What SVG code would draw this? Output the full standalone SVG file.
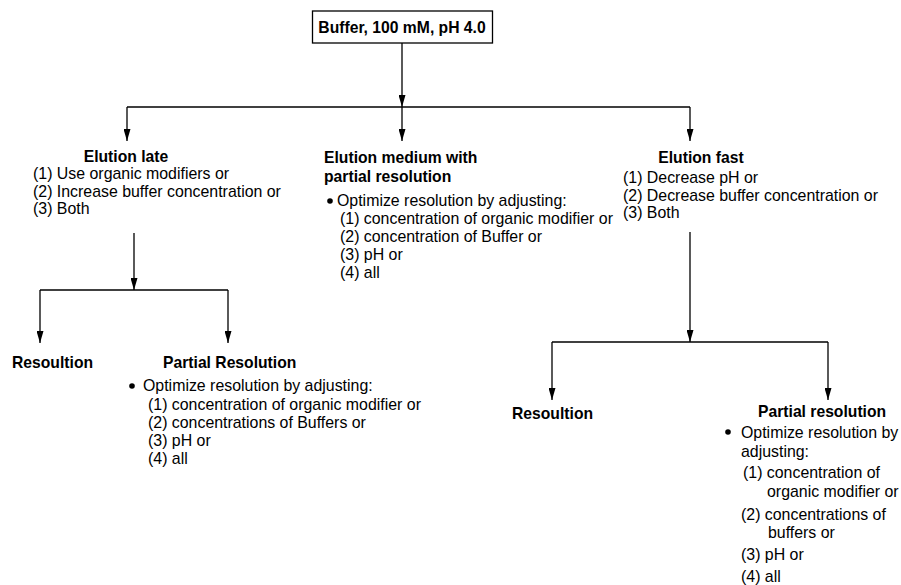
<svg xmlns="http://www.w3.org/2000/svg" width="901" height="585" viewBox="0 0 901 585">
<defs>
<style>
text{font-family:"Liberation Sans",Arial,sans-serif;font-size:15.9px;fill:#000}
.b{font-weight:bold;font-size:15.7px}
.ln{stroke:#000;stroke-width:1.3;fill:none}
</style>
<marker id="ah" viewBox="0 0 12 7" refX="12" refY="3.5" markerWidth="12" markerHeight="7" orient="auto" markerUnits="userSpaceOnUse">
<path d="M0,0 L12,3.5 L0,7 z" fill="#000"/>
</marker>
</defs>
<rect width="901" height="585" fill="#fff"/>
<g id="connectors">
<line class="ln" x1="402" y1="43" x2="402" y2="107" marker-end="url(#ah)"/>
<line class="ln" x1="127" y1="107" x2="690" y2="107"/>
<line class="ln" x1="127" y1="107" x2="127" y2="141" marker-end="url(#ah)"/>
<line class="ln" x1="402" y1="107" x2="402" y2="141" marker-end="url(#ah)"/>
<line class="ln" x1="690" y1="107" x2="690" y2="141" marker-end="url(#ah)"/>
<line class="ln" x1="134" y1="233" x2="134" y2="290" marker-end="url(#ah)"/>
<line class="ln" x1="40" y1="290" x2="228" y2="290"/>
<line class="ln" x1="40" y1="290" x2="40" y2="343" marker-end="url(#ah)"/>
<line class="ln" x1="228" y1="290" x2="228" y2="343" marker-end="url(#ah)"/>
<line class="ln" x1="690" y1="232" x2="690" y2="342" marker-end="url(#ah)"/>
<line class="ln" x1="552" y1="342" x2="828" y2="342"/>
<line class="ln" x1="552" y1="342" x2="552" y2="400" marker-end="url(#ah)"/>
<line class="ln" x1="828" y1="342" x2="828" y2="400" marker-end="url(#ah)"/>
</g>
<g id="root">
<rect x="312.5" y="11" width="180" height="32" fill="#fff" stroke="#000" stroke-width="1.3"/>
<text class="b" x="402" y="33" text-anchor="middle">Buffer, 100 mM, pH 4.0</text>
</g>
<g id="elution-late">
<text class="b" x="126" y="162" text-anchor="middle">Elution late</text>
<text x="33" y="179">(1) Use organic modifiers or</text>
<text x="33" y="197">(2) Increase buffer concentration or</text>
<text x="33" y="214">(3) Both</text>
</g>
<g id="elution-medium">
<text class="b" x="324" y="163">Elution medium with</text>
<text class="b" x="324" y="182">partial resolution</text>
<circle cx="330" cy="201" r="2.8" fill="#000"/>
<text x="337" y="206">Optimize resolution by adjusting:</text>
<text x="340" y="224">(1) concentration of organic modifier or</text>
<text x="340" y="242">(2) concentration of Buffer or</text>
<text x="340" y="260">(3) pH or</text>
<text x="340" y="278">(4) all</text>
</g>
<g id="elution-fast">
<text class="b" x="701" y="163" text-anchor="middle">Elution fast</text>
<text x="623" y="183">(1) Decrease pH or</text>
<text x="623" y="201">(2) Decrease buffer concentration or</text>
<text x="623" y="218">(3) Both</text>
</g>
<g id="resolution-left">
<text class="b" x="12" y="368">Resoultion</text>
</g>
<g id="partial-left">
<text class="b" x="163" y="368">Partial Resolution</text>
<circle cx="132" cy="386" r="2.8" fill="#000"/>
<text x="143" y="391">Optimize resolution by adjusting:</text>
<text x="148" y="410">(1) concentration of organic modifier or</text>
<text x="148" y="428">(2) concentrations of Buffers or</text>
<text x="148" y="446">(3) pH or</text>
<text x="148" y="464">(4) all</text>
</g>
<g id="resolution-right">
<text class="b" x="512" y="419">Resoultion</text>
</g>
<g id="partial-right">
<text class="b" x="758" y="417">Partial resolution</text>
<circle cx="728" cy="432" r="2.8" fill="#000"/>
<text x="741" y="438">Optimize resolution by</text>
<text x="741" y="457">adjusting:</text>
<text x="743" y="478">(1) concentration of</text>
<text x="767" y="497">organic modifier or</text>
<text x="741" y="520">(2) concentrations of</text>
<text x="768" y="538">buffers or</text>
<text x="741" y="560">(3) pH or</text>
<text x="741" y="582">(4) all</text>
</g>
</svg>
